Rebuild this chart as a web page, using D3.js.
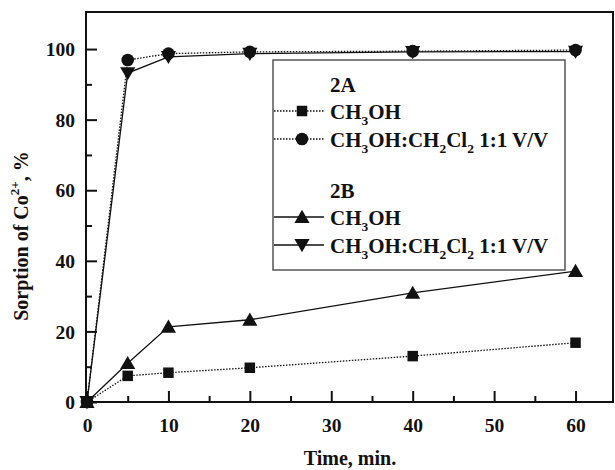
<!DOCTYPE html>
<html>
<head>
<meta charset="utf-8">
<script src="https://cdn.jsdelivr.net/npm/d3@7"></script>
<style>
  body { margin: 0; background: #fff; }
  svg { display: block; font-family: "Liberation Serif", "Times New Roman", serif; font-weight: bold; }
</style>
</head>
<body>
<svg id="chart" width="615" height="470"></svg>
<script>
// Sorption of Co2+ over time in two solvent systems
const times = [0, 5, 10, 20, 40, 60];
const a_ch3oh = [0, 7.4, 8.3, 9.7, 13.0, 16.8];
const a_mix   = [0, 96.9, 98.7, 99.2, 99.4, 99.7];
const b_ch3oh = [0, 11.0, 21.3, 23.3, 30.9, 37.1];
const b_mix   = [0, 93.2, 97.8, 98.7, 99.2, 99.3];
const xMajorTicks = [0, 10, 20, 30, 40, 50, 60];
const yMajorTicks = [0, 20, 40, 60, 80, 100];

const series = [
  { values: a_ch3oh, symbol: d3.symbolSquare, size: 110, dash: "1.5,1.5", rot: 0 },
  { values: a_mix,   symbol: d3.symbolCircle, size: 125, dash: "1.5,1.5", rot: 0 },
  { values: b_ch3oh, symbol: d3.symbolTriangle, size: 100, dash: null, rot: 0 },
  { values: b_mix,   symbol: d3.symbolTriangle, size: 100, dash: null, rot: 180 }
];

const svg = d3.select("#chart");
const m = { left: 86, right: 613, top: 12, bottom: 402 };
const x = d3.scaleLinear().domain([0, 64.6]).range([m.left + 1, m.right]);
const y = d3.scaleLinear().domain([0, 110.5]).range([m.bottom, m.top]);

// Frame
svg.append("rect")
  .attr("x", m.left).attr("y", m.top)
  .attr("width", m.right - m.left).attr("height", m.bottom - m.top)
  .attr("fill", "none").attr("stroke", "#111").attr("stroke-width", 2);

const tickFont = 19.5;

// Bottom axis: major + minor ticks pointing inward
const xAxis = svg.append("g").attr("transform", `translate(0,${m.bottom})`);
xAxis.call(d3.axisBottom(x).tickValues(d3.range(5, 65, 10)).tickSize(-6).tickFormat(""));
xAxis.call(g => g.append("g").call(d3.axisBottom(x).tickValues(xMajorTicks).tickSize(-11).tickFormat(d3.format("d"))));
xAxis.selectAll(".domain").remove();
xAxis.selectAll("line").attr("stroke", "#111").attr("stroke-width", 2);
xAxis.selectAll("text").attr("y", 30).attr("dy", null)
  .attr("font-size", tickFont).attr("font-weight", "bold").attr("fill", "#111")
  .attr("font-family", "Liberation Serif");

// Left axis
const yAxis = svg.append("g").attr("transform", `translate(${m.left},0)`);
yAxis.call(d3.axisLeft(y).tickValues(d3.range(10, 110, 20)).tickSize(-6).tickFormat(""));
yAxis.call(g => g.append("g").call(d3.axisLeft(y).tickValues(yMajorTicks).tickSize(-11).tickFormat(d3.format("d"))));
yAxis.selectAll(".domain").remove();
yAxis.selectAll("line").attr("stroke", "#111").attr("stroke-width", 2);
yAxis.selectAll("text").attr("x", -11).attr("dy", "0.34em")
  .attr("font-size", tickFont).attr("font-weight", "bold").attr("fill", "#111")
  .attr("font-family", "Liberation Serif");

// Series lines and markers
const line = d3.line().x((d, i) => x(times[i])).y(d => y(d));
series.forEach(s => {
  svg.append("path").datum(s.values)
    .attr("d", line).attr("fill", "none").attr("stroke", "#111")
    .attr("stroke-width", 1.3)
    .attr("stroke-dasharray", s.dash);
});
series.forEach(s => {
  svg.append("g").selectAll("path").data(s.values).join("path")
    .attr("transform", (d, i) => `translate(${x(times[i])},${y(d) + (s.symbol === d3.symbolTriangle ? (s.rot ? -1.5 : 1.5) : 0)}) rotate(${s.rot})`)
    .attr("d", d3.symbol(s.symbol, s.size))
    .attr("fill", "#111");
});

// Legend
const legendFont = 21, subFont = 13.5;
const lg = svg.append("g");
lg.append("rect").attr("x", 273).attr("y", 60).attr("width", 292).attr("height", 210)
  .attr("fill", "#fff").attr("stroke", "#555").attr("stroke-width", 1.5);

function legendText(tx, ty, parts) {
  const t = lg.append("text").attr("x", tx).attr("y", ty).attr("fill", "#111")
    .attr("font-size", legendFont).attr("font-weight", "bold");
  let down = false;
  parts.forEach(p => {
    const isSub = p[1];
    const span = t.append("tspan").text(p[0]).attr("font-size", isSub ? subFont : legendFont);
    if (isSub && !down) { span.attr("dy", 6); down = true; }
    else if (!isSub && down) { span.attr("dy", -6); down = false; }
  });
}
const ch3oh = [["CH", 0], ["3", 1], ["OH", 0]];
const mix = [["CH", 0], ["3", 1], ["OH:CH", 0], ["2", 1], ["Cl", 0], ["2", 1], [" 1:1 V/V", 0]];

lg.append("text").attr("x", 330).attr("y", 92).attr("font-size", legendFont).attr("fill", "#111").text("2A");
lg.append("text").attr("x", 330).attr("y", 198).attr("font-size", legendFont).attr("fill", "#111").text("2B");
const rows = [
  { s: series[0], yy: 111, parts: ch3oh },
  { s: series[1], yy: 139, parts: mix },
  { s: series[2], yy: 217, parts: ch3oh },
  { s: series[3], yy: 245, parts: mix }
];
rows.forEach(r => {
  lg.append("line").attr("x1", 274).attr("x2", 324).attr("y1", r.yy).attr("y2", r.yy)
    .attr("stroke", "#111").attr("stroke-width", 1.3).attr("stroke-dasharray", r.s.dash);
  lg.append("path")
    .attr("transform", `translate(302,${r.yy + (r.s.symbol === d3.symbolTriangle ? (r.s.rot ? -1.5 : 1.5) : 0)}) rotate(${r.s.rot})`)
    .attr("d", d3.symbol(r.s.symbol, r.s.size)).attr("fill", "#111");
  legendText(330, r.yy + 8, r.parts);
});

// Axis titles
svg.append("text").attr("x", 350).attr("y", 465).attr("text-anchor", "middle")
  .attr("font-size", 20).attr("fill", "#111").text("Time, min.");
const yt = svg.append("text").attr("transform", "translate(28,236) rotate(-90)")
  .attr("text-anchor", "middle").attr("font-size", 20).attr("fill", "#111");
yt.append("tspan").text("Sorption of Co");
yt.append("tspan").text("2+").attr("font-size", 13).attr("dy", -9);
yt.append("tspan").text(", %").attr("dy", 9);
</script>
</body>
</html>
